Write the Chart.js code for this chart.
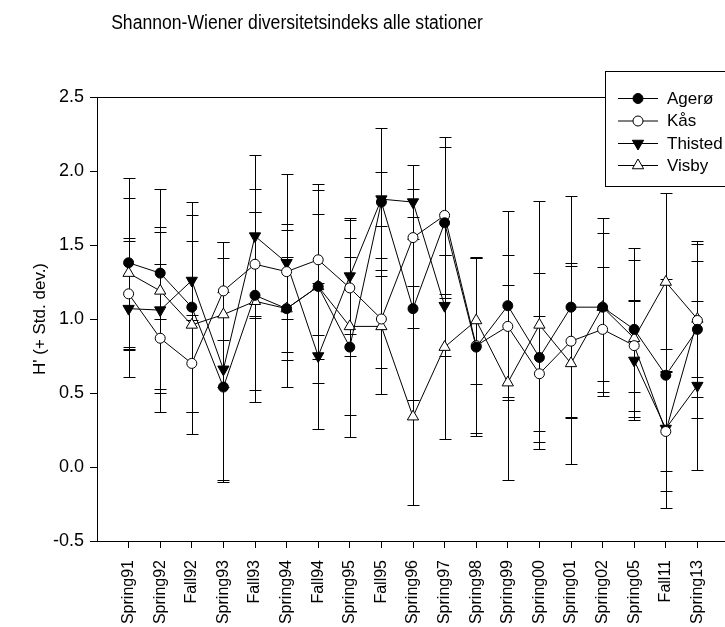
<!DOCTYPE html>
<html>
<head>
<meta charset="utf-8">
<script src="https://cdn.jsdelivr.net/npm/chart.js@4.4.1/dist/chart.umd.min.js"></script>
<style>
    html, body { margin: 0; padding: 0; background: #fff; overflow: hidden; }
    #wrap { position: relative; width: 760px; height: 627px; }
</style>
</head>
<body>
<div id="wrap"><canvas id="chart"></canvas></div>
<script>
// Data (mean H' and standard deviation per sampling)
const categories = ['Spring91', 'Spring92', 'Fall92', 'Spring93', 'Fall93', 'Spring94', 'Fall94', 'Spring95',
    'Fall95', 'Spring96', 'Spring97', 'Spring98', 'Spring99', 'Spring00', 'Spring01', 'Spring02', 'Spring05',
    'Fall11', 'Spring13'];

const agero   = [1.38, 1.31, 1.08, 0.54, 1.16, 1.07, 1.22, 0.81, 1.79, 1.07, 1.65, 0.81, 1.09, 0.74, 1.08, 1.08, 0.93, 0.62, 0.93];
const ageroSd = [0.57, 0.31, 0.71, 0.64, 0.72, 0.53, 0.65, 0.61, 0.50, 0.62, 0.51, 0.60, 0.64, 0.57, 0.75, 0.60, 0.55, 0.65, 0.60];

const kas     = [1.17, 0.87, 0.70, 1.19, 1.37, 1.32, 1.40, 1.21, 1.00, 1.55, 1.70, 0.82, 0.95, 0.63, 0.85, 0.93, 0.82, 0.24, 0.99];
const kasSd   = [0.38, 0.50, 0.33, 0.33, 0.35, 0.32, 0.51, 0.46, 0.33, 0.33, 0.53, 0.59, 0.48, 0.39, 0.51, 0.42, 0.31, 0.40, 0.52];

const thisted   = [1.07, 1.06, 1.26, 0.66, 1.56, 1.38, 0.75, 1.29, 1.81, 1.79, 1.09, null, null, null, null, null, 0.72, 0.26, 0.55];
const thistedSd = [0.46, 0.53, 0.27, 0.75, 0.55, 0.60, 0.49, 0.39, 0.18, 0.25, 0.34, null, null, null, null, null, 0.40, 0.54, 0.57];

const visby   = [1.31, 1.19, 0.96, 1.03, 1.12, 1.07, 1.22, 0.95, 0.95, 0.34, 0.81, 0.99, 0.57, 0.96, 0.70, 1.08, 0.87, 1.25, 1.00];
const visbySd = [0.51, 0.69, 0.74, 0.49, 0.60, 0.35, 0.49, 0.60, 0.46, 0.60, 0.62, 0.43, 0.66, 0.84, 0.68, 0.50, 0.53, 0.60, 0.39];

const yTicks = [-0.5, 0.0, 0.5, 1.0, 1.5, 2.0, 2.5];

const FONT = '"Liberation Sans", Arial, sans-serif';

function toPoints(values) {
    return values.map((v, i) => ({ x: i, y: v }));
}

function series(label, values, sd, style, filled, rotation) {
    return {
        label: label,
        data: toPoints(values),
        sd: sd,
        borderColor: '#000',
        borderWidth: 1,
        tension: 0,
        spanGaps: false,
        pointStyle: style,
        pointRadius: style === 'circle' ? 5 : 6.5,
        pointHoverRadius: style === 'circle' ? 5 : 6.5,
        pointRotation: rotation || 0,
        pointBackgroundColor: filled ? '#000' : '#fff',
        pointBorderColor: '#000',
        pointBorderWidth: 1
    };
}

const datasets = [
    series('Agerø', agero, ageroSd, 'circle', true),
    series('Kås', kas, kasSd, 'circle', false),
    series('Thisted', thisted, thistedSd, 'triangle', true, 180),
    series('Visby', visby, visbySd, 'triangle', false)
];

// +/- std. dev. bars, drawn under the lines and markers
const errorBars = {
    id: 'errorBars',
    beforeDatasetsDraw(chart) {
        const { ctx, scales: { x, y } } = chart;
        ctx.save();
        ctx.strokeStyle = '#000';
        ctx.lineWidth = 1;
        chart.data.datasets.forEach(ds => {
            ds.data.forEach((p, i) => {
                const sd = ds.sd[i];
                if (p.y === null || sd === null) return;
                const px = Math.round(x.getPixelForValue(p.x)) + 0.5;
                const top = Math.round(y.getPixelForValue(p.y + sd)) + 0.5;
                const bot = Math.round(y.getPixelForValue(p.y - sd)) + 0.5;
                ctx.beginPath();
                ctx.moveTo(px, top);
                ctx.lineTo(px, bot);
                ctx.moveTo(px - 6, top);
                ctx.lineTo(px + 6, top);
                ctx.moveTo(px - 6, bot);
                ctx.lineTo(px + 6, bot);
                ctx.stroke();
            });
        });
        ctx.restore();
    }
};

// Frame, title and legend box
const decorations = {
    id: 'decorations',
    afterDraw(chart) {
        const { ctx, chartArea } = chart;
        ctx.save();
        ctx.strokeStyle = '#000';
        ctx.lineWidth = 1;
        ctx.beginPath();
        ctx.moveTo(chartArea.left, Math.round(chartArea.top) + 0.5);
        ctx.lineTo(chartArea.right, Math.round(chartArea.top) + 0.5);
        ctx.lineTo(chartArea.right, chartArea.bottom);
        ctx.stroke();

        // title: slightly condensed, as in the original figure
        ctx.save();
        ctx.fillStyle = '#000';
        ctx.font = '20px ' + FONT;
        ctx.textAlign = 'center';
        ctx.textBaseline = 'alphabetic';
        ctx.translate(297, 29);
        ctx.scale(0.88, 1);
        ctx.fillText('Shannon-Wiener diversitetsindeks alle stationer', 0, 0);
        ctx.restore();

        // legend
        const bx = 605.5, by = 71.5, bw = 140, bh = 115;
        ctx.fillStyle = '#fff';
        ctx.fillRect(bx, by, bw, bh);
        ctx.strokeRect(bx, by, bw, bh);
        const rows = [98, 120.5, 143, 165];
        chart.data.datasets.forEach((ds, i) => {
            const ly = rows[i];
            ctx.beginPath();
            ctx.moveTo(618, ly + 0.5);
            ctx.lineTo(658, ly + 0.5);
            ctx.stroke();
            ctx.fillStyle = ds.pointBackgroundColor;
            ctx.strokeStyle = '#000';
            Chart.helpers.drawPoint(ctx, {
                pointStyle: ds.pointStyle,
                radius: ds.pointRadius,
                rotation: ds.pointRotation,
                borderWidth: 1
            }, 638, ly + 0.5);
            ctx.fillStyle = '#000';
            ctx.font = '17px ' + FONT;
            ctx.textAlign = 'left';
            ctx.textBaseline = 'middle';
            ctx.fillText(ds.label, 667, ly + 1);
        });
        ctx.restore();
    }
};

new Chart(document.getElementById('chart'), {
    type: 'line',
    data: { datasets: datasets },
    plugins: [errorBars, decorations],
    options: {
        responsive: true,
        maintainAspectRatio: false,
        animation: false,
        events: [],
        layout: { padding: { top: 97, right: 31, left: 0, bottom: 0 } },
        plugins: {
            legend: { display: false },
            title: { display: false },
            tooltip: { enabled: false }
        },
        scales: {
            x: {
                type: 'linear',
                min: -1,
                max: 19,
                afterBuildTicks: scale => {
                    scale.ticks = categories.map((c, i) => ({ value: i }));
                },
                afterFit: scale => { scale.height = 86; },
                ticks: {
                    autoSkip: false,
                    minRotation: 90,
                    maxRotation: 90,
                    padding: 12,
                    color: '#000',
                    font: { family: FONT, size: 16 },
                    callback: value => categories[value] || ''
                },
                grid: { drawOnChartArea: false, drawTicks: true, tickLength: 7, color: '#000' },
                border: { color: '#000', width: 1 }
            },
            y: {
                min: -0.5,
                max: 2.5,
                afterBuildTicks: scale => {
                    scale.ticks = yTicks.map(v => ({ value: v }));
                },
                afterFit: scale => { scale.width = 97; },
                ticks: {
                    padding: 6,
                    color: '#000',
                    font: { family: FONT, size: 18 },
                    callback: value => Number(value).toFixed(1)
                },
                grid: { drawOnChartArea: false, drawTicks: true, tickLength: 7, color: '#000' },
                border: { color: '#000', width: 1 },
                title: {
                    display: true,
                    text: "H' (+ Std. dev.)",
                    color: '#000',
                    font: { family: FONT, size: 17 },
                    padding: { top: 30, bottom: 0 }
                }
            }
        }
    }
});
</script>
</body>
</html>
